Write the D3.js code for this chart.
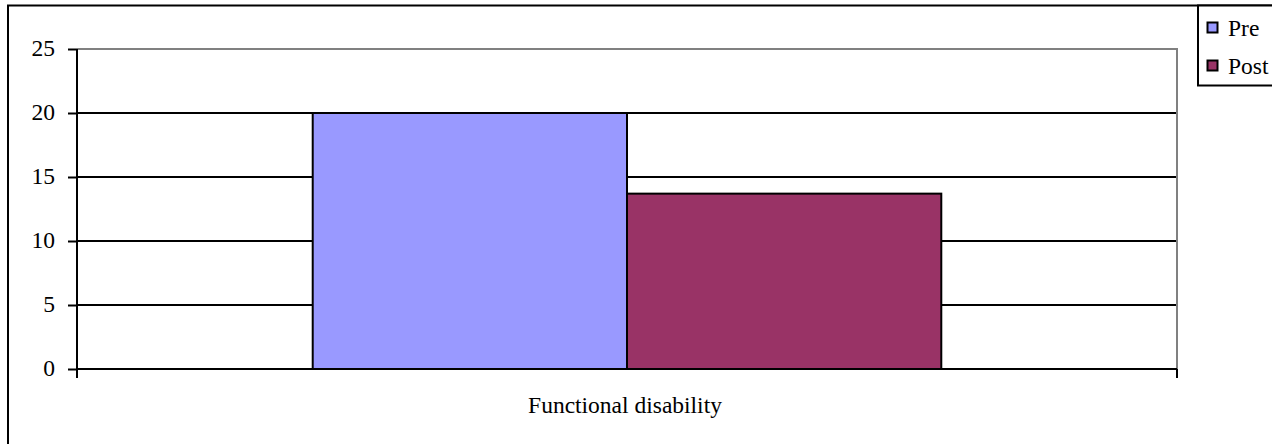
<!DOCTYPE html>
<html>
<head>
<meta charset="utf-8">
<script src="https://cdn.jsdelivr.net/npm/d3@7/dist/d3.min.js"></script>
<style>
  html, body { margin: 0; padding: 0; background: #fff; }
  svg { display: block; }
  svg text { font-family: "Liberation Serif", "Times New Roman", Times, "DejaVu Serif", serif !important; fill: #000; }
</style>
</head>
<body>
<svg id="chart" width="1272" height="444"></svg>
<script>
// Chart data
const categories = ["Functional disability"];
const seriesNames = ["Pre", "Post"];
const preValues = [20];
const postValues = [13.7];
const yTicks = [0, 5, 10, 15, 20, 25];
const seriesColors = ["#9999FF", "#993366"];

const svg = d3.select("#chart");
const plot = { left: 77, right: 1177, top: 49, bottom: 369 };
const fontSize = 23.5;
const serif = "'Liberation Serif', 'Times New Roman', Times, 'DejaVu Serif', serif";

// Outer chart frame (extends past the right and bottom edges)
svg.append("rect")
  .attr("x", 8).attr("y", 5.5)
  .attr("width", 1400).attr("height", 600)
  .attr("fill", "#fff").attr("stroke", "#000").attr("stroke-width", 2);

const y = d3.scaleLinear().domain([0, 25]).range([plot.bottom, plot.top]);
const x0 = d3.scaleBand().domain(categories).range([plot.left, plot.right]).padding(0);
const x1 = d3.scaleBand().domain(seriesNames).range([0, x0.bandwidth()])
  .paddingInner(0).paddingOuter(0.75);

// Horizontal gridlines
svg.append("g").selectAll("line")
  .data(yTicks.filter(t => t > 0 && t < 25))
  .join("line")
  .attr("x1", plot.left).attr("x2", plot.right)
  .attr("y1", d => y(d)).attr("y2", d => y(d))
  .attr("stroke", "#000").attr("stroke-width", 2);

// Plot area border (top and right in grey)
svg.append("path")
  .attr("d", `M${plot.left},${y(25)}H${plot.right}V${plot.bottom}`)
  .attr("fill", "none").attr("stroke", "#808080").attr("stroke-width", 2);

// Bars
const rows = categories.map((c, i) => ({ category: c, values: [preValues[i], postValues[i]] }));
const groups = svg.append("g").selectAll("g")
  .data(rows).join("g")
  .attr("transform", d => `translate(${x0(d.category)},0)`);
groups.selectAll("rect")
  .data(d => d.values.map((v, j) => ({ name: seriesNames[j], value: v, color: seriesColors[j] })))
  .join("rect")
  .attr("x", d => x1(d.name))
  .attr("width", x1.bandwidth())
  .attr("y", d => y(d.value))
  .attr("height", d => y(0) - y(d.value))
  .attr("fill", d => d.color)
  .attr("stroke", "#000").attr("stroke-width", 2);

// Y axis
const yAxis = d3.axisLeft(y).tickValues(yTicks).tickSize(9).tickPadding(13).tickFormat(d3.format("d"));
const gy = svg.append("g").attr("transform", `translate(${plot.left},0)`).call(yAxis)
  .attr("font-family", serif).attr("font-size", fontSize);
gy.select(".domain").attr("stroke", "#000").attr("stroke-width", 2)
  .attr("d", `M0,${y(25)}V${y(0)}`);
gy.selectAll(".tick line").attr("stroke", "#000").attr("stroke-width", 2);
gy.selectAll(".tick text").attr("dy", "0.28em");

// X axis: baseline, boundary ticks and category label
const edges = [x0.range()[0], ...categories.map(c => x0(c) + x0.bandwidth())];
svg.append("line")
  .attr("x1", plot.left).attr("x2", plot.right)
  .attr("y1", y(0)).attr("y2", y(0))
  .attr("stroke", "#000").attr("stroke-width", 2);
svg.append("g").selectAll("line")
  .data(edges).join("line")
  .attr("x1", d => d).attr("x2", d => d)
  .attr("y1", y(0)).attr("y2", y(0) + 9)
  .attr("stroke", "#000").attr("stroke-width", 2);
svg.append("g").selectAll("text")
  .data(categories).join("text")
  .attr("x", d => x0(d) + x0.bandwidth() / 2 - 2)
  .attr("y", 413)
  .attr("text-anchor", "middle")
  .attr("font-family", serif)
  .attr("font-size", fontSize)
  .text(d => d);

// Legend
const legend = svg.append("g");
legend.append("rect")
  .attr("x", 1198).attr("y", 5.5).attr("width", 200).attr("height", 80)
  .attr("fill", "#fff").attr("stroke", "#000").attr("stroke-width", 2);
const items = legend.selectAll("g.item")
  .data(seriesNames.map((n, i) => ({ name: n, color: seriesColors[i] })))
  .join("g").attr("class", "item")
  .attr("transform", (d, i) => `translate(1207,${22 + i * 38})`);
items.append("rect")
  .attr("x", 0.5).attr("y", 0.5).attr("width", 10).attr("height", 10)
  .attr("fill", d => d.color).attr("stroke", "#000").attr("stroke-width", 2);
items.append("text")
  .attr("x", 21).attr("y", 14)
  .attr("font-family", serif)
  .attr("font-size", fontSize)
  .text(d => d.name);
</script>
</body>
</html>
